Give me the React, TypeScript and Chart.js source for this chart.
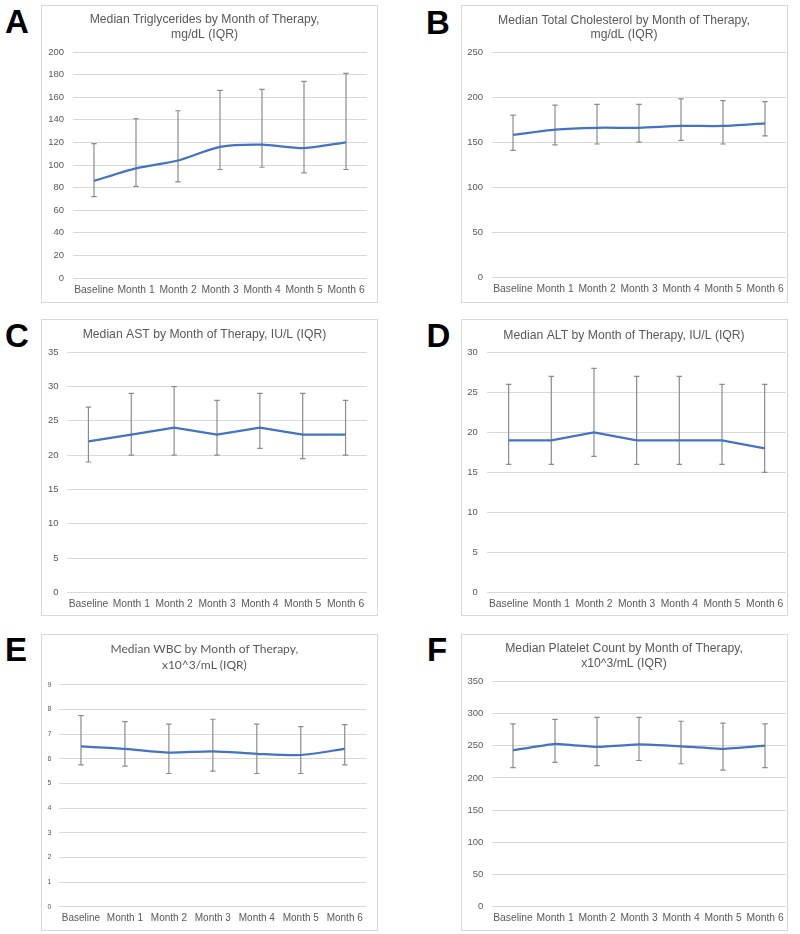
import React, { useEffect, useRef } from "react";
import { Chart, registerables } from "chart.js";

Chart.register(...registerables);

// ---------- data ----------
const categories = ["Baseline", "Month 1", "Month 2", "Month 3", "Month 4", "Month 5", "Month 6"];

const trigMedian = [86, 97, 104, 116, 118, 115, 120];
const trigLow = [72, 81, 85, 96, 98, 93, 96];
const trigHigh = [119, 141, 148, 166, 167, 174, 181];

const cholMedian = [158, 164, 166, 166, 168, 168, 171];
const cholLow = [141, 147, 148, 150, 152, 148, 157];
const cholHigh = [180, 191, 192, 192, 198, 196, 195];

const astMedian = [22, 23, 24, 23, 24, 23, 23];
const astLow = [19, 20, 20, 20, 21, 19.5, 20];
const astHigh = [27, 29, 30, 28, 29, 29, 28];

const altMedian = [19, 19, 20, 19, 19, 19, 18];
const altLow = [16, 16, 17, 16, 16, 16, 15];
const altHigh = [26, 27, 28, 27, 27, 26, 26];

const wbcMedian = [6.5, 6.4, 6.25, 6.3, 6.2, 6.15, 6.4];
const wbcLow = [5.75, 5.7, 5.4, 5.5, 5.4, 5.4, 5.75];
const wbcHigh = [7.75, 7.5, 7.4, 7.6, 7.4, 7.3, 7.38];

const pltMedian = [243, 253, 248, 252, 249, 245, 250];
const pltLow = [216, 224, 219, 227, 222, 212, 216];
const pltHigh = [284, 291, 294, 294, 288, 285, 284];

const titleA = ["Median Triglycerides by Month of Therapy,", "mg/dL (IQR)"];
const titleB = ["Median Total Cholesterol by Month of Therapy,", "mg/dL (IQR)"];
const titleC = ["Median AST by Month of Therapy, IU/L (IQR)"];
const titleD = ["Median ALT by Month of Therapy, IU/L (IQR)"];
const titleE = ["Median WBC by Month of Therapy,", "x10^3/mL (IQR)"];
const titleF = ["Median Platelet Count by Month of Therapy,", "x10^3/mL (IQR)"];

// ---------- styling ----------
const ARIAL = '"Liberation Sans", Arial, sans-serif';
const CALI = 'Lato, "Open Sans", sans-serif';
const TEXT = "#595959";
const GRID = "#d9d9d9";
const LINE = "#4472C4";
const BAR = "#8c8c8c";

type PanelCfg = {
  letter: string;
  letterPos: [number, number];
  box: [number, number, number, number];
  title: string[];
  titleFamily: string;
  titleSize: number;
  titleFitWidth?: number;
  titleLH: number;
  titlePad: [number, number];
  yWidth: number;
  yPad: number;
  yFont: number;
  xHeight: number;
  xPad: number;
  xFont: number;
  rightPad: number;
  max: number;
  step: number;
  tension: number;
  median: number[];
  low: number[];
  high: number[];
};

const panels: PanelCfg[] = [
  {
    letter: "A", letterPos: [5, 5], box: [41, 5, 337, 298],
    title: titleA, titleFamily: ARIAL, titleSize: 12.2, titleLH: 14.5, titlePad: [6.75, 10.25],
    yWidth: 31, yPad: 9, yFont: 9.5, xHeight: 24, xPad: 6, xFont: 10.3, rightPad: 10,
    max: 200, step: 20, tension: 0.25, median: trigMedian, low: trigLow, high: trigHigh,
  },
  {
    letter: "B", letterPos: [426, 6], box: [461, 5, 327, 298],
    title: titleB, titleFamily: ARIAL, titleSize: 12.2, titleLH: 14.5, titlePad: [7.25, 9.75],
    yWidth: 30, yPad: 9, yFont: 9.5, xHeight: 24.5, xPad: 5.5, xFont: 10.3, rightPad: 1,
    max: 250, step: 50, tension: 0.25, median: cholMedian, low: cholLow, high: cholHigh,
  },
  {
    letter: "C", letterPos: [5, 319], box: [41, 319, 337, 297],
    title: titleC, titleFamily: ARIAL, titleSize: 12.2, titleLH: 14.5, titlePad: [7.75, 10.05],
    yWidth: 25, yPad: 8.5, yFont: 9.5, xHeight: 22.7, xPad: 5.5, xFont: 10.3, rightPad: 10,
    max: 35, step: 5, tension: 0, median: astMedian, low: astLow, high: astHigh,
  },
  {
    letter: "D", letterPos: [426.5, 319], box: [461, 319, 327, 297],
    title: titleD, titleFamily: ARIAL, titleSize: 12.2, titleLH: 14.5, titlePad: [8.25, 9.55],
    yWidth: 25.3, yPad: 9.5, yFont: 9.5, xHeight: 22.7, xPad: 5.5, xFont: 10.3, rightPad: 1,
    max: 30, step: 5, tension: 0, median: altMedian, low: altLow, high: altHigh,
  },
  {
    letter: "E", letterPos: [5, 632.5], box: [41, 634, 337, 297],
    title: titleE, titleFamily: CALI, titleSize: 13.5, titleFitWidth: 188, titleLH: 16.2, titlePad: [6.2, 11.1],
    yWidth: 17, yPad: 7.7, yFont: 7, xHeight: 23.3, xPad: 5.6, xFont: 10, rightPad: 10.3,
    max: 9, step: 1, tension: 0.25, median: wbcMedian, low: wbcLow, high: wbcHigh,
  },
  {
    letter: "F", letterPos: [427, 632.5], box: [461, 634, 327, 297],
    title: titleF, titleFamily: ARIAL, titleSize: 12.2, titleLH: 15.1, titlePad: [6.15, 9.95],
    yWidth: 30, yPad: 8.7, yFont: 9.5, xHeight: 23.3, xPad: 4.8, xFont: 10.3, rightPad: 1,
    max: 350, step: 50, tension: 0.1, median: pltMedian, low: pltLow, high: pltHigh,
  },
];

function fitFontSize(text: string, family: string, target: number, fallback: number): number {
  try {
    const c = document.createElement("canvas");
    const ctx = c.getContext("2d");
    if (!ctx) return fallback;
    ctx.font = `100px ${family}`;
    const w = ctx.measureText(text).width;
    if (!w) return fallback;
    return (target / w) * 100;
  } catch {
    return fallback;
  }
}

function makeErrorBars(low: number[], high: number[]) {
  return {
    id: "iqrBars",
    beforeDatasetsDraw(chart: any) {
      const { ctx } = chart;
      const x = chart.scales.x;
      const y = chart.scales.y;
      ctx.save();
      ctx.strokeStyle = BAR;
      ctx.lineWidth = 1.2;
      low.forEach((lo, i) => {
        const px = x.getPixelForValue(i);
        const yl = y.getPixelForValue(lo);
        const yh = y.getPixelForValue(high[i]);
        ctx.beginPath();
        ctx.moveTo(px, yl);
        ctx.lineTo(px, yh);
        ctx.moveTo(px - 2.7, yl);
        ctx.lineTo(px + 2.7, yl);
        ctx.moveTo(px - 2.7, yh);
        ctx.lineTo(px + 2.7, yh);
        ctx.stroke();
      });
      ctx.restore();
    },
  };
}

function Panel({ cfg }: { cfg: PanelCfg }) {
  const ref = useRef<HTMLCanvasElement>(null);
  const [bx, by, bw, bh] = cfg.box;

  useEffect(() => {
    if (!ref.current) return;
    const tSize = cfg.titleFitWidth
      ? fitFontSize(cfg.title[0], cfg.titleFamily, cfg.titleFitWidth, cfg.titleSize)
      : cfg.titleSize;
    const chart = new Chart(ref.current, {
      type: "line",
      data: {
        labels: categories,
        datasets: [
          {
            data: cfg.median,
            borderColor: LINE,
            backgroundColor: LINE,
            borderWidth: 2.25,
            pointRadius: 0,
            fill: false,
            tension: cfg.tension,
          },
        ],
      },
      options: {
        animation: false,
        responsive: false,
        devicePixelRatio: 1,
        layout: { padding: { left: 0, right: cfg.rightPad, top: 0, bottom: 0 } },
        plugins: {
          legend: { display: false },
          tooltip: { enabled: false },
          title: {
            display: true,
            text: cfg.title,
            color: TEXT,
            font: { family: cfg.titleFamily, size: tSize, weight: "normal", lineHeight: `${cfg.titleLH}px` },
            padding: { top: cfg.titlePad[0], bottom: cfg.titlePad[1] },
          },
        },
        scales: {
          x: {
            type: "category",
            offset: true,
            grid: { display: false, drawTicks: false },
            border: { display: false },
            ticks: {
              color: TEXT,
              font: { family: ARIAL, size: cfg.xFont },
              padding: cfg.xPad,
              maxRotation: 0,
              autoSkip: false,
            },
            afterFit: (s: any) => {
              s.height = cfg.xHeight;
              s.paddingLeft = 0;
              s.paddingRight = 0;
            },
          },
          y: {
            min: 0,
            max: cfg.max,
            ticks: {
              stepSize: cfg.step,
              color: TEXT,
              font: { family: ARIAL, size: cfg.yFont },
              padding: cfg.yPad,
            },
            grid: { color: GRID, drawTicks: false, lineWidth: 1 },
            border: { display: false },
            afterFit: (s: any) => {
              s.width = cfg.yWidth;
              s.paddingTop = 0;
              s.paddingBottom = 0;
            },
          },
        },
      },
      plugins: [makeErrorBars(cfg.low, cfg.high)],
    } as any);
    return () => chart.destroy();
  }, []);

  return (
    <>
      <div
        style={{
          position: "absolute",
          left: cfg.letterPos[0],
          top: cfg.letterPos[1],
          fontFamily: ARIAL,
          fontWeight: "bold",
          fontSize: 33,
          lineHeight: "33px",
          color: "#000",
        }}
      >
        {cfg.letter}
      </div>
      <div
        style={{
          position: "absolute",
          left: bx,
          top: by,
          width: bw,
          height: bh,
          border: `1px solid ${GRID}`,
          boxSizing: "border-box",
          background: "#fff",
        }}
      >
        <canvas ref={ref} width={bw - 2} height={bh - 2} style={{ display: "block", width: bw - 2, height: bh - 2 }} />
      </div>
    </>
  );
}

export default function App() {
  return (
    <div
      style={{
        position: "absolute",
        left: 0,
        top: 0,
        width: 800,
        height: 934,
        background: "#fff",
        overflow: "hidden",
      }}
    >
      {panels.map((p) => (
        <Panel key={p.letter} cfg={p} />
      ))}
    </div>
  );
}
